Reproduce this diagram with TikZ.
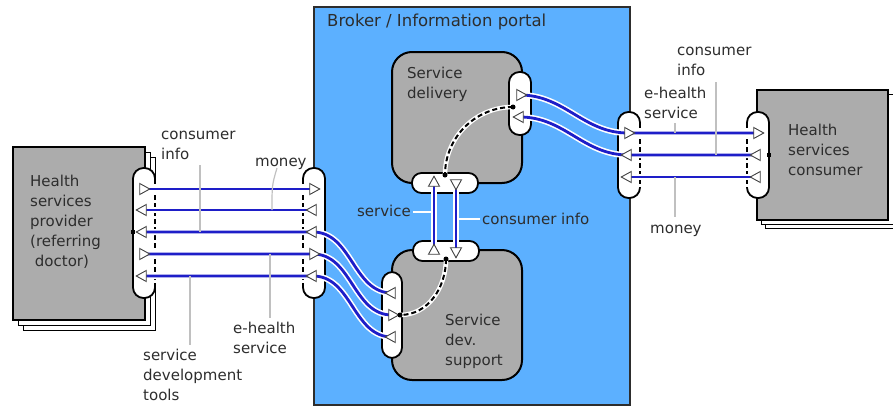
\documentclass[tikz,border=0pt]{standalone}
\usepackage{fontspec}
\setmainfont{DejaVu Sans}
\usetikzlibrary{shapes.geometric}
\definecolor{portalblue}{RGB}{92,176,255}
\definecolor{boxgray}{RGB}{172,172,172}
\definecolor{flowblue}{RGB}{30,30,200}
\definecolor{leadgray}{RGB}{192,192,192}
\definecolor{inkgray}{RGB}{45,45,45}
\begin{document}
\begin{tikzpicture}[x=1pt, y=-1pt,
	txt/.style={font=\fontsize{15}{20}\selectfont, text=inkgray, inner sep=0pt, align=left},
	page/.style={draw=black, fill=white, line width=0.8pt},
	actor/.style={draw=black, fill=boxgray, line width=2pt, inner sep=0pt},
	part/.style={draw=black, fill=boxgray, line width=2pt, rounded corners=20pt, inner sep=0pt},
	port/.style={rectangle, draw=black, fill=white, line width=1.8pt, rounded corners=10.5pt, minimum width=22pt, minimum height=#1, inner sep=0pt, outer sep=0pt},
	hport/.style={port=20pt, minimum width=66pt, rounded corners=9.5pt},
	openside/.style={draw=black, dash pattern=on 5pt off 3pt, line width=1.6pt, preaction={draw=white, solid, line width=2.6pt}},
	flow/.style={draw=flowblue, line width=2.8pt, preaction={draw=white, line width=6pt}},
	inner/.style={draw=black, dash pattern=on 5pt off 3pt, line width=2pt, preaction={draw=white, solid, line width=4.6pt}},
	tri/.style={isosceles triangle, isosceles triangle stretches, minimum width=11pt, minimum height=10pt, inner sep=0pt, draw=black!75, fill=white, line width=0.9pt, shape border rotate=#1},
	lead/.style={draw=leadgray, line width=1.2pt},
	wlead/.style={draw=white, line width=1.4pt}]
	\useasboundingbox (0,0) rectangle (893,407);

	\draw[line width=2pt, draw=inkgray, fill=portalblue] (314,7) rectangle (630,405);
	\node[txt, font=\fontsize{16.5}{20}\selectfont, anchor=base west] (portal) at (327,26) {Broker / Information portal};

	\draw[page] (23,157) rectangle (155,330);
	\draw[page] (18,152) rectangle (150,325);
	\node[actor, minimum width=132pt, minimum height=173pt] (provider) at (79,233.5) {};
	\node[txt, anchor=base west] (provtxt) at (30,266) {Health\\services\\provider\\(referring\\\ doctor)};

	\draw[page] (765,98) rectangle (897,228);
	\draw[page] (761,94) rectangle (893,224);
	\node[actor, minimum width=131pt, minimum height=130pt] (consumer) at (822.5,155) {};
	\node[txt, anchor=base west] (constxt) at (788,175) {Health\\services\\consumer};

	\node[part, minimum width=130pt, minimum height=131pt] (delivery) at (457,117.5) {};
	\node[txt, anchor=base west] (delivtxt) at (407,98) {Service\\delivery};
	\node[part, minimum width=130pt, minimum height=130pt] (support) at (457,315) {};
	\node[txt, anchor=base west] (supptxt) at (445,365) {Service\\dev.\\support};

	\node[port=130pt] (provport) at (144,233) {};
	\node[port=130pt] (leftport) at (314,233) {};
	\node[port=86pt] (rightport) at (629,155) {};
	\node[port=86pt] (consport) at (758,155) {};
	\node[port=63pt] (delivport) at (520,103.5) {};
	\node[port=86pt, minimum width=20pt] (suppport) at (392,315) {};
	\node[hport] (delivbot) at (445,183) {};
	\node[hport] (supptop) at (446,251) {};

	\draw[openside] ([yshift=-11pt]provport.north east) -- ([yshift=11pt]provport.south east);
	\draw[openside] ([yshift=-11pt]leftport.north west) -- ([yshift=11pt]leftport.south west);
	\draw[openside] ([yshift=-11pt]rightport.north east) -- ([yshift=11pt]rightport.south east);
	\draw[openside] ([yshift=-11pt]consport.north west) -- ([yshift=11pt]consport.south west);

	\foreach \y [count=\i] in {189,210,232,254,276} {
		\coordinate (P\i) at (143,\y);
		\coordinate (L\i) at (313,\y);
	}
	\foreach \y [count=\i from 3] in {293,315,337}
		\coordinate (S\i) at (392,\y);
	\foreach \y [count=\i] in {133,155,177} {
		\coordinate (R\i) at (628,\y);
		\coordinate (C\i) at (757,\y);
	}
	\coordinate (D1) at (520,95);
	\coordinate (D2) at (520,117);
	\coordinate (B1) at (434,183);
	\coordinate (B2) at (456,183);
	\coordinate (T1) at (434,251);
	\coordinate (T2) at (456,251);

	\draw[flow] (P1) -- (L1);
	\draw[flow] (P2) -- (L2);
	\draw[flow] (P3) -- (L3) to[out=0, in=180] (S3);
	\draw[flow] (P4) -- (L4) to[out=0, in=180] (S4);
	\draw[flow] (P5) -- (L5) to[out=0, in=180] (S5);
	\draw[flow] (D1) to[out=0, in=180] (R1) -- (C1);
	\draw[flow] (D2) to[out=0, in=180] (R2) -- (C2);
	\draw[flow] (R3) -- (C3);
	\draw[flow] (B1) -- (T1);
	\draw[flow] (B2) -- (T2);

	\coordinate (dD) at (513,107);
	\coordinate (dB) at (445,175);
	\coordinate (dT) at (446,259);
	\coordinate (dS) at (400,315);
	\draw[inner] (dD) to[out=180, in=90] (dB);
	\draw[inner] (dT) to[out=-90, in=0] (dS);

	\draw[lead] (200,165) -- (200,232);
	\draw[lead] (277,168) .. controls (272,185) .. (272,210);
	\draw[lead] (270,254) -- (270,318);
	\draw[lead] (190,276) -- (190,345);
	\draw[lead] (716,82) -- (716,155);
	\draw[lead] (675,123) -- (675,133);
	\draw[lead] (675,177) -- (675,217);
	\draw[wlead] (413,212) -- (432,212);
	\draw[wlead] (459,219) -- (480,219);

	\foreach \i/\d in {1/0,2/180,3/180,4/0,5/180} {
		\node[tri=\d] (tp\i) at (P\i) {};
		\node[tri=\d] (tl\i) at (L\i) {};
	}
	\foreach \i/\d in {3/180,4/0,5/180}
		\node[tri=\d] (ts\i) at (S\i) {};
	\foreach \i/\d in {1/0,2/180,3/180} {
		\node[tri=\d] (tr\i) at (R\i) {};
		\node[tri=\d] (tc\i) at (C\i) {};
	}
	\node[tri=0] (td1) at (D1) {};
	\node[tri=180] (td2) at (D2) {};
	\node[tri=90] (tb1) at (B1) {};
	\node[tri=270] (tb2) at (B2) {};
	\node[tri=90] (tt1) at (T1) {};
	\node[tri=270] (tt2) at (T2) {};

	\fill (dD) circle (2.5pt) (dB) circle (2.5pt) (dT) circle (2.5pt) (dS) circle (2.5pt);
	\fill (131,230) rectangle (135,234);
	\fill (767,153) rectangle (771,157);

	\node[txt, anchor=base west] (ciL) at (161,159) {consumer\\info};
	\node[txt, anchor=base west] (moneyL) at (255,166) {money};
	\node[txt, anchor=base west] (ehL) at (233,353) {e-health\\service};
	\node[txt, anchor=base west] (sdt) at (143,400) {service\\development\\tools};
	\node[txt, anchor=base west] (ciR) at (677,75) {consumer\\info};
	\node[txt, anchor=base west] (ehR) at (644,118) {e-health\\service};
	\node[txt, anchor=base west] (moneyR) at (650,233) {money};
	\node[txt, anchor=base east] (svc) at (411,216) {service};
	\node[txt, anchor=base west] (ciM) at (482,224) {consumer info};
\end{tikzpicture}
\end{document}
